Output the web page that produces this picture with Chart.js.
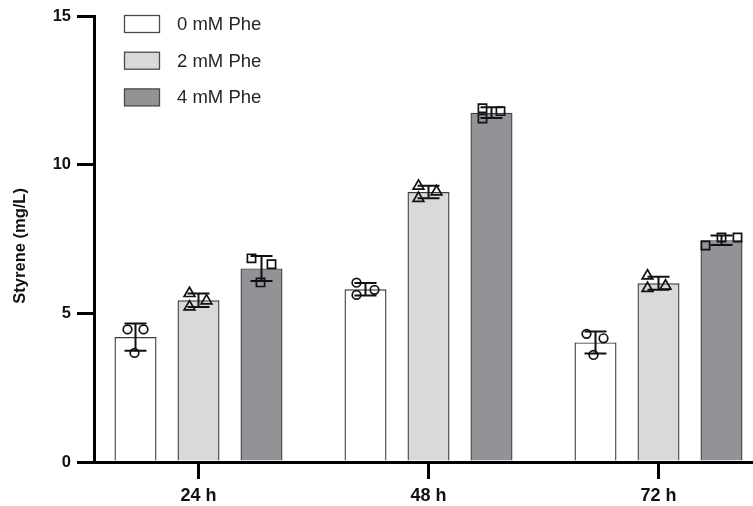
<!DOCTYPE html>
<html><head><meta charset="utf-8">
<script src="https://cdn.jsdelivr.net/npm/chart.js@4/dist/chart.umd.min.js"></script>
<style>html,body{margin:0;padding:0;background:#fff}#wrap{width:753px;height:506px;position:relative}</style>
</head><body><div id="wrap"><canvas id="c"></canvas></div>
<script>
// ---- data ----
const categories = ['24 h', '48 h', '72 h'];
const seriesLabels = ['0 mM Phe', '2 mM Phe', '4 mM Phe'];
const mean0 = [4.20, 5.81, 4.02];
const mean2 = [5.44, 9.08, 6.01];
const mean4 = [6.51, 11.75, 7.46];
const sd0 = [0.46, 0.21, 0.37];
const sd2 = [0.23, 0.21, 0.22];
const sd4 = [0.42, 0.18, 0.16];
const rep0 = [[4.46, 4.46, 3.67], [6.03, 5.62, 5.79], [4.31, 4.16, 3.60]];
const rep2 = [[5.67, 5.22, 5.42], [9.28, 8.87, 9.09], [6.26, 5.84, 5.92]];
const rep4 = [[6.85, 6.65, 6.04], [11.90, 11.55, 11.80], [7.28, 7.55, 7.55]];
const yTicks = [0, 5, 10, 15];

// ---- layout / style ----
const jit0 = [[-8, 8, -1], [-9, -9, 9], [-9, 8, -2]];
const jit2 = [[-9, -9, 8], [-10, -10, 8], [-11, -11, 7]];
const jit4 = [[-10, 10, -1], [-9, -9, 9], [-16, 0, 16]];
const UNIT_PX = 230;
const CAT_PCT = 189 / 230;
const BAR_PCT = 42 / 63;
const fills = ['#ffffff', '#d8d9db', '#929396'];
const shapes = ['circle', 'triangle', 'rect'];
const radii = [4.3, 6.2, 5.8];
const FONT = '"Liberation Sans", Arial, sans-serif';

const means = [mean0, mean2, mean4];
const sds = [sd0, sd2, sd4];
const reps = [rep0, rep2, rep4];
const jits = [jit0, jit2, jit4];

function groupX(i, d) { return i + (d - 1) * CAT_PCT / 3; }

const datasets = [];
means.forEach((m, d) => {
  datasets.push({
    type: 'bar', label: seriesLabels[d], order: 2,
    data: m.map((v, i) => ({x: i, y: v})),
    backgroundColor: fills[d], borderColor: '#3c3c3c', borderWidth: 1.4,
    categoryPercentage: CAT_PCT, barPercentage: BAR_PCT
  });
});
reps.forEach((r, d) => {
  const pts = [];
  r.forEach((vals, i) => vals.forEach((v, k) => pts.push({x: groupX(i, d) + jits[d][i][k] / UNIT_PX, y: v})));
  datasets.push({
    type: 'scatter', label: seriesLabels[d] + ' pts', order: 0,
    data: pts, pointStyle: shapes[d], pointRadius: radii[d],
    pointBackgroundColor: 'rgba(0,0,0,0)', pointBorderColor: '#111', pointBorderWidth: 1.7,
    showLine: false
  });
});

const errorBars = {
  id: 'errorBars',
  afterDatasetsDraw(chart) {
    const ctx = chart.ctx, xs = chart.scales.x, ys = chart.scales.y;
    ctx.save();
    ctx.strokeStyle = '#111'; ctx.lineWidth = 2;
    means.forEach((m, d) => m.forEach((v, i) => {
      const px = xs.getPixelForValue(groupX(i, d));
      const top = ys.getPixelForValue(v + sds[d][i]);
      const bot = ys.getPixelForValue(v - sds[d][i]);
      ctx.beginPath();
      ctx.moveTo(px, top); ctx.lineTo(px, bot);
      ctx.moveTo(px - 11, top); ctx.lineTo(px + 11, top);
      ctx.moveTo(px - 11, bot); ctx.lineTo(px + 11, bot);
      ctx.stroke();
    }));
    ctx.restore();
  }
};

const boxLegend = {
  id: 'boxLegend',
  afterDraw(chart) {
    const ctx = chart.ctx;
    ctx.save();
    seriesLabels.forEach((lab, d) => {
      const y = 15 + d * 36.7;
      ctx.fillStyle = fills[d];
      ctx.fillRect(124.5, y + 0.5, 35, 17);
      ctx.strokeStyle = '#4a4a4a'; ctx.lineWidth = 1.3;
      ctx.strokeRect(124.5, y + 0.5, 35, 17);
      ctx.fillStyle = '#262626';
      ctx.font = '18.5px ' + FONT;
      ctx.textBaseline = 'middle';
      ctx.fillText(lab, 177, y + 10);
    });
    ctx.restore();
  }
};

new Chart(document.getElementById('c'), {
  type: 'bar',
  data: { datasets },
  plugins: [errorBars, boxLegend],
  options: {
    responsive: true, maintainAspectRatio: false, animation: false,
    layout: { autoPadding: false, padding: { top: 16, right: 0, left: 0, bottom: 0 } },
    plugins: { legend: { display: false }, tooltip: { enabled: false } },
    scales: {
      x: {
        type: 'linear', offset: false,
        min: -(198.5 - 94) / UNIT_PX, max: (753 - 198.5) / UNIT_PX,
        afterBuildTicks: s => { s.ticks = categories.map((_, i) => ({value: i})); },
        afterFit: s => { s.height = 44; s.paddingLeft = 0; s.paddingRight = 0; },
        ticks: { callback: v => categories[v], padding: 6, color: '#111', maxRotation: 0,
          font: { family: FONT, size: 18, weight: 'bold' } },
        grid: { display: true, offset: false, drawOnChartArea: false, drawTicks: true, tickLength: 17, lineWidth: 3, tickWidth: 3, tickColor: '#000' },
        border: { display: true, width: 3, color: '#000' }
      },
      y: {
        min: 0, max: 15,
        afterBuildTicks: s => { s.ticks = yTicks.map(v => ({value: v})); },
        afterFit: s => { s.width = 94; },
        ticks: { padding: 6, color: '#111',
          font: { family: FONT, size: 16.5, weight: 'bold' } },
        grid: { display: true, drawOnChartArea: false, drawTicks: true, tickLength: 17, lineWidth: 3, tickWidth: 3, tickColor: '#000' },
        border: { display: true, width: 3, color: '#000' },
        title: { display: true, text: 'Styrene (mg/L)   ', color: '#111', padding: { top: 11, bottom: 0 },
          font: { family: FONT, size: 16.5, weight: 'bold' } }
      }
    }
  }
});
</script>
</body></html>
